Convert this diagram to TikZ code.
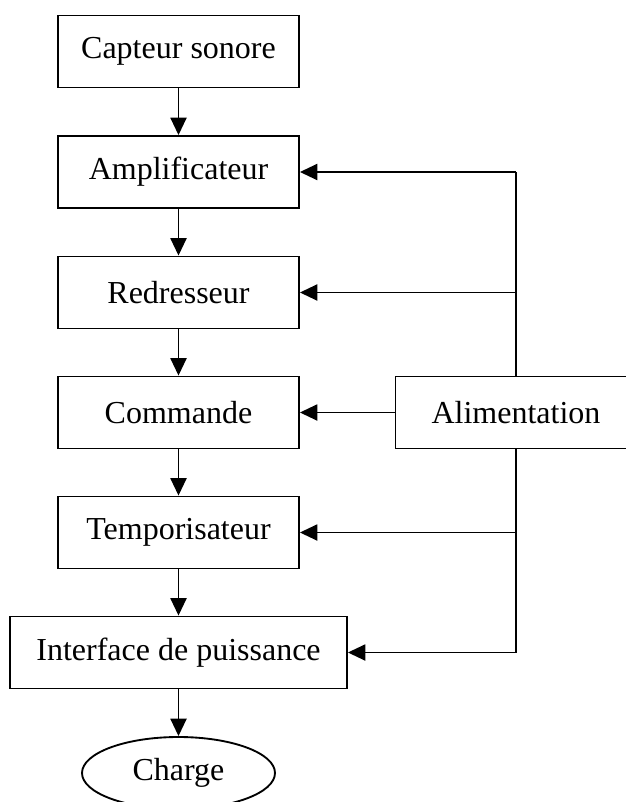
\documentclass[tikz,border=0pt]{standalone}
\usepackage{fontspec}
\setmainfont{Liberation Serif}
\usetikzlibrary{arrows.meta,shapes.geometric}
\begin{document}
\begin{tikzpicture}
    [x=0.75pt,y=-0.75pt,line width=1.4pt,
     font=\fontsize{24}{28}\selectfont,
     block/.style={draw,rectangle,inner sep=0pt,minimum width=180.75pt,minimum height=54pt},
     flow/.style={-{Triangle[length=13pt,width=12pt]}}]
    \useasboundingbox (0,0) rectangle (625,802);
    \node (capteur) at (178.5, 51.5) [block] {Capteur sonore};
    \node (ampli) at (178.5, 172) [block] {Amplificateur};
    \node (redresseur) at (178.5, 292.5) [block] {Redresseur};
    \node (commande) at (178.5, 412.5) [block] {Commande};
    \node (tempo) at (178.5, 532.5) [block] {Temporisateur};
    \node (interface) at (178.5, 652.5) [block,minimum width=252.75pt] {Interface de puissance};
    \node (charge) at (178.5, 773) [draw,ellipse,inner sep=0pt,minimum width=144.75pt,minimum height=54pt] {Charge};
    \node (alim) at (516, 412.5) [block] {Alimentation};
    \coordinate (busA) at (516, 172);
    \coordinate (busR) at (516, 292.5);
    \coordinate (busT) at (516, 532.5);
    \coordinate (busI) at (516, 652.5);
    \draw [flow] (capteur) to (ampli);
    \draw [flow] (ampli) to (redresseur);
    \draw [flow] (redresseur) to (commande);
    \draw [flow] (commande) to (tempo);
    \draw [flow] (tempo) to (interface);
    \draw [flow] (interface) to (charge);
    \draw (alim.north) -- (busA);
    \draw (alim.south) -- (busI);
    \draw [flow] (busA) to (ampli.east);
    \draw [flow] (busR) to (redresseur.east);
    \draw [flow] (alim.west) to (commande.east);
    \draw [flow] (busT) to (tempo.east);
    \draw [flow] (busI) to (interface.east);
\end{tikzpicture}
\end{document}
